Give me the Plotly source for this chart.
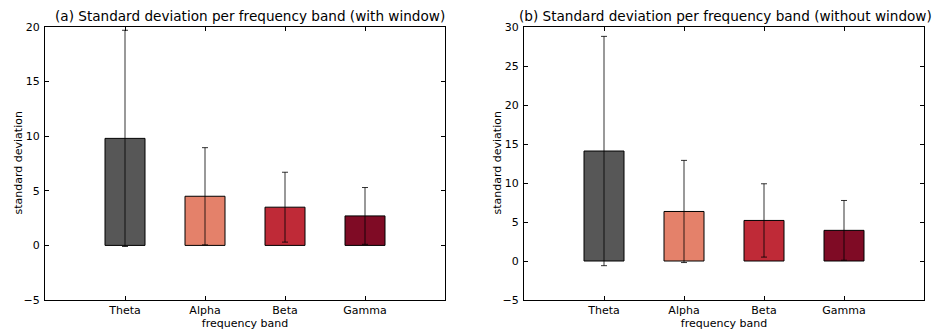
import plotly.graph_objects as go

bands = ["Theta", "Alpha", "Beta", "Gamma"]
colors = ["#575757", "#e4816a", "#bf2a37", "#7f0b25"]

# (a) with window
std_a = [9.8, 4.5, 3.5, 2.7]
err_a = [9.9, 4.45, 3.2, 2.6]
# (b) without window
std_b = [14.1, 6.35, 5.2, 3.93]
err_b = [14.7, 6.55, 4.7, 3.83]

title_a = "(a) Standard deviation per frequency band (with window)"
title_b = "(b) Standard deviation per frequency band (without window)"

FONT = "DejaVu Sans"

fig = go.Figure()

for std, err, xa, ya in [(std_a, err_a, "x", "y"), (std_b, err_b, "x2", "y2")]:
    fig.add_trace(go.Bar(
        x=bands, y=std, width=0.5,
        marker=dict(color=colors, line=dict(color="black", width=1)),
        error_y=dict(type="data", array=err, symmetric=True,
                     color="rgba(0,0,0,0.8)", thickness=1, width=3),
        xaxis=xa, yaxis=ya, showlegend=False,
    ))

W, H = 938, 330
ydom = [1 - 300 / H, 1 - 27 / H]
xdom_a = [45 / W, 445 / W]
xdom_b = [524 / W, 924 / W]

common_x = dict(type="category", range=[-1, 4], ticks="inside", ticklen=4,
                tickcolor="black", showline=True, linecolor="black", linewidth=1,
                mirror="allticks", showgrid=False, zeroline=False, automargin=False,
                tickfont=dict(family=FONT, size=11, color="black"),
                title=dict(text="frequency band", font=dict(family=FONT, size=11, color="black"), standoff=4))
common_y = dict(ticks="inside", ticklen=4, tickcolor="black", showline=True,
                linecolor="black", linewidth=1, mirror="allticks", showgrid=False,
                zeroline=False, automargin=False, tickfont=dict(family=FONT, size=11, color="black"),
                ticklabelstandoff=2)

annotations = []
for xd, t, tx in [(xdom_a, title_a, 249.5), (xdom_b, title_b, 725)]:
    annotations.append(dict(text=t, x=tx / W, y=1 - 26 / H, xref="paper", yref="paper",
                            xanchor="center", yanchor="bottom", showarrow=False,
                            font=dict(family=FONT, size=13.6, color="black")))
    annotations.append(dict(text="standard deviation", x=xd[0] - 27 / W, y=(ydom[0] + ydom[1]) / 2,
                            xref="paper", yref="paper", xanchor="center", yanchor="middle",
                            textangle=-90, showarrow=False,
                            font=dict(family=FONT, size=11, color="black")))

fig.update_layout(
    width=W, height=H, margin=dict(l=0, r=0, t=0, b=0),
    plot_bgcolor="white", paper_bgcolor="white",
    xaxis=dict(domain=xdom_a, anchor="y", **common_x),
    yaxis=dict(domain=ydom, anchor="x", range=[-5, 20], tickvals=[-5, 0, 5, 10, 15, 20],
               ticktext=["\u22125", "0", "5", "10", "15", "20"], **common_y),
    xaxis2=dict(domain=xdom_b, anchor="y2", **common_x),
    yaxis2=dict(domain=ydom, anchor="x2", range=[-5, 30], tickvals=[-5, 0, 5, 10, 15, 20, 25, 30],
                ticktext=["\u22125", "0", "5", "10", "15", "20", "25", "30"], **common_y),
    annotations=annotations,
)

fig.write_html("out.html")
